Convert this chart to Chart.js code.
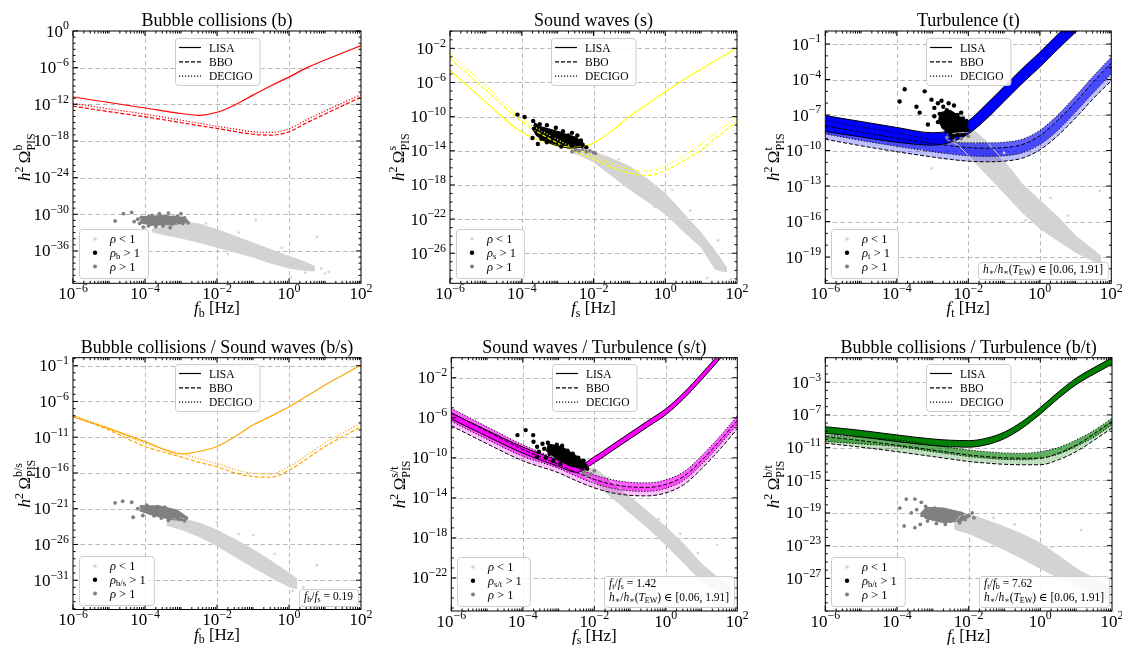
<!DOCTYPE html>
<html><head><meta charset="utf-8"><title>PIS</title>
<script src="https://cdn.jsdelivr.net/npm/chart.js@4.4.1/dist/chart.umd.min.js"></script>
<style>html,body{margin:0;padding:0;background:#fff}#wrap{position:relative;width:1122px;height:648px;overflow:hidden;background:#fff}#wrap canvas{position:absolute}</style>
</head><body><div id="wrap"></div>
<script>
// ================= DATA (all values are log10) =================
const freqExp = [-6,-5,-4,-3,-2.5,-2,-1.5,-1,-0.5,0,0.5,1,1.5,2];
const xTicks = [-6,-4,-2,0,2];

// ---- (b) bubble collisions
const yTicks_b = [0,-6,-12,-18,-24,-30,-36];
const b_LISA   = [-10.8,-11.7,-12.6,-13.5,-13.8,-13.3,-12.1,-10.5,-8.95,-7.55,-6.0,-4.75,-3.55,-2.4];
const b_BBO    = [-12.3,-13.2,-14.05,-15.0,-15.5,-15.95,-16.45,-16.9,-17.05,-16.5,-15.0,-13.6,-12.2,-10.85];
const b_DECIGO = [-11.85,-12.75,-13.6,-14.6,-15.1,-15.6,-16.05,-16.5,-16.6,-16.0,-14.5,-13.1,-11.75,-10.4];
const b_cloud = [[-3.8,-32.4],[-3.3,-31.8],[-2.85,-31.3],[-2.5,-31.6],[-2,-32.5],[-1.5,-33.6],[-1,-34.7],[-0.5,-35.8],[0,-36.9],[0.4,-37.7],[0.7,-38.5],
                 [0.7,-39.3],[0.3,-39.1],[0,-38.8],[-0.5,-38.0],[-1,-37.0],[-1.5,-36.2],[-2,-35.4],[-2.5,-34.6],[-3,-33.9],[-3.5,-33.3],[-3.8,-32.9]];
const b_light = [[-0.92,-31.0],[0.78,-33.7],[1.0,-39.7],[0.05,-40.3],[1.1,-39.4],[0.45,-39.6],[-1.4,-33.0],[-0.2,-35.5],[0.9,-38.9],[-2.3,-31.5],[-1.7,-36.5]];
const b_grayCore = [[-4.1,-30.4],[-3.5,-30.2],[-2.9,-30.5],[-2.8,-31.3],[-3.2,-31.7],[-3.8,-31.8],[-4.15,-31.4]];
const b_gray = [[-4.83,-31.1],[-4.6,-29.9],[-4.37,-29.7],[-4.05,-32.1],[-4.2,-30.8],[-4.1,-30.5],[-4.0,-30.9],[-3.95,-31.3],[-3.9,-30.4],[-3.85,-31.6],
  [-3.8,-30.2],[-3.75,-30.9],[-3.7,-31.4],[-3.65,-30.6],[-3.6,-31.0],[-3.55,-30.3],[-3.5,-31.5],[-3.45,-30.8],[-3.4,-30.4],[-3.35,-31.2],[-3.3,-30.7],
  [-3.25,-31.6],[-3.2,-30.5],[-3.15,-31.0],[-3.1,-30.3],[-3.05,-31.3],[-3.0,-30.8],[-2.95,-31.5],[-2.9,-30.6],[-2.85,-31.1],[-2.8,-31.4],[-3.7,-32.0],
  [-3.5,-31.9],[-3.3,-32.2],[-3.9,-31.9],[-3.6,-29.9],[-3.35,-29.8],[-4.15,-31.5],[-4.3,-31.2],[-3.0,-29.9]];

// ---- (s) sound waves
const yTicks_s = [-2,-6,-10,-14,-18,-22,-26];
const s_LISA   = [-4.55,-8.3,-11.8,-13.4,-13.6,-13.1,-11.7,-10.0,-8.55,-7.1,-5.7,-4.45,-3.2,-1.95];
const s_BBO    = [-3.2,-6.9,-10.6,-13.1,-14.1,-15.0,-15.9,-16.6,-16.9,-16.3,-15.2,-13.9,-12.2,-10.6];
const s_DECIGO = [-2.6,-6.4,-10.2,-12.7,-13.75,-14.55,-15.45,-16.15,-16.4,-15.75,-14.6,-13.2,-11.6,-10.0];
const s_cloud = [[-2.6,-13.7],[-2.0,-14.1],[-1.5,-14.9],[-1.0,-15.8],[-0.5,-17.3],[0,-19.0],[0.5,-21.3],[1.0,-23.6],[1.4,-25.8],[1.7,-27.6],
                 [1.7,-28.2],[1.4,-27.9],[1.0,-25.3],[0.5,-23.4],[0,-21.4],[-0.5,-19.9],[-1.0,-18.5],[-1.5,-16.9],[-2.0,-15.3],[-2.4,-14.5],[-2.6,-14.2]];
const s_light = [[1.47,-24.5],[-0.77,-16.7],[1.83,-29.05],[1.17,-28.9],[0.2,-18.6],[-1.3,-15.0],[1.6,-28.0],[0.7,-21.0],[-0.3,-20.6]];
const s_gray = [[-2.5,-13.9],[-2.4,-14.0],[-2.3,-13.8],[-2.2,-14.1],[-2.1,-14.0],[-2.0,-14.2],[-2.6,-14.1],[-1.95,-14.3]];
const s_blackCore = [[-3.65,-10.7],[-3.45,-11.2],[-3.1,-11.6],[-2.8,-12.0],[-2.5,-12.4],[-2.3,-13.0],[-2.3,-13.6],[-2.7,-13.7],[-3.1,-13.3],[-3.4,-12.8],[-3.6,-12.2],[-3.7,-11.4]];
const s_black = [[-4.12,-9.76],[-3.92,-10.05],[-3.68,-10.5],[-3.66,-11.4],[-3.5,-10.9],[-3.4,-11.5],[-3.3,-11.0],[-3.2,-11.9],[-3.05,-11.3],[-2.95,-12.0],
  [-2.85,-11.7],[-2.7,-12.2],[-2.6,-11.9],[-2.5,-12.6],[-2.45,-12.2],[-2.35,-12.8],[-2.3,-13.3],[-3.45,-12.6],[-3.3,-13.0],[-3.7,-12.5],[-3.55,-13.2],
  [-2.9,-13.5],[-2.6,-13.4],[-2.2,-13.6],[-3.15,-12.4],[-2.75,-12.8]];

// ---- (t) turbulence
const yTicks_t = [-1,-4,-7,-10,-13,-16,-19];
const t_LISA_hi   = [-7.05,-7.55,-8.05,-8.5,-8.3,-7.5,-6.1,-4.6,-3.1,-1.7,-0.2,1.2,2.6,4.0];
const t_LISA_lo   = [-8.4,-8.85,-9.3,-9.55,-9.3,-8.6,-7.35,-5.85,-4.35,-2.95,-1.45,0.0,1.4,2.8];
const t_DECIGO_hi = [-7.45,-8.0,-8.5,-9.1,-9.25,-9.35,-9.35,-9.3,-9.05,-8.3,-7.0,-5.4,-3.7,-2.1];
const t_DECIGO_lo = [-8.6,-9.15,-9.65,-10.1,-10.3,-10.45,-10.5,-10.45,-10.2,-9.5,-8.3,-6.75,-5.1,-3.5];
const t_BBO_hi    = [-7.9,-8.45,-8.95,-9.4,-9.6,-9.75,-9.8,-9.75,-9.5,-8.75,-7.45,-5.9,-4.2,-2.6];
const t_BBO_lo    = [-9.05,-9.6,-10.1,-10.55,-10.75,-10.9,-10.95,-10.9,-10.65,-9.95,-8.75,-7.25,-5.6,-4.1];
const t_cloud = [[-2.6,-8.6],[-2.2,-8.5],[-1.8,-8.4],[-1.5,-9.2],[-1.15,-10.4],[-0.8,-11.6],[-0.5,-12.8],[0,-14.2],[0.5,-15.6],[1.0,-17.2],[1.5,-18.4],[1.7,-18.9],
                 [1.7,-19.6],[1.4,-19.2],[1.0,-18.6],[0.5,-17.6],[0,-16.6],[-0.5,-15.2],[-1.0,-13.6],[-1.5,-12.0],[-2.0,-10.4],[-2.3,-9.5],[-2.6,-9.1]];
const t_light = [[-3.03,-11.5],[1.68,-13.4],[-3.3,-10.0],[-1.0,-10.2],[0.3,-14.0],[1.2,-19.8],[-1.8,-9.3],[0.8,-15.5],[-0.4,-15.9],[1.6,-19.6]];
const t_gray = [[-2.6,-8.9],[-2.4,-9.1],[-2.2,-9.0],[-2.0,-8.8]];
const t_blackCore = [[-2.8,-6.8],[-2.5,-6.6],[-2.2,-7.2],[-2.0,-7.8],[-2.1,-8.6],[-2.4,-8.8],[-2.7,-8.2],[-2.85,-7.5]];
const t_black = [[-3.92,-5.86],[-3.78,-4.82],[-3.22,-5.0],[-3.03,-5.7],[-3.45,-6.3],[-3.13,-7.8],[-3.36,-6.8],[-2.95,-6.4],[-2.85,-6.0],[-2.8,-6.9],
  [-2.7,-6.3],[-2.65,-7.2],[-2.6,-6.6],[-2.55,-7.7],[-2.5,-6.9],[-2.45,-7.4],[-2.4,-6.2],[-2.35,-7.9],[-2.3,-7.0],[-2.25,-7.6],[-2.2,-8.2],[-2.15,-7.3],
  [-2.1,-8.0],[-2.05,-7.5],[-2.0,-8.3],[-2.7,-8.0],[-2.6,-8.4],[-2.5,-8.6],[-2.4,-8.3],[-2.3,-8.7],[-2.85,-7.6],[-2.95,-7.1],[-2.75,-5.8],[-2.55,-6.0],
  [-2.2,-6.8],[-2.15,-8.7],[-2.45,-8.9]];

// ---- (b/s)
const yTicks_bs = [-1,-6,-11,-16,-21,-26,-31];
const bs_LISA   = [-8.15,-9.8,-11.6,-13.35,-13.0,-12.3,-10.9,-9.3,-8.05,-6.75,-5.25,-3.7,-2.3,-0.9];
const bs_BBO    = [-8.05,-10.0,-12.3,-13.75,-14.5,-15.15,-16.0,-16.5,-16.6,-15.6,-14.0,-12.3,-10.9,-9.55];
const bs_DECIGO = [-7.95,-9.7,-11.85,-13.3,-14.0,-14.7,-15.55,-16.05,-16.15,-15.1,-13.5,-11.8,-10.4,-9.0];
const bs_cloud = [[-3.4,-22.6],[-3.0,-22.3],[-2.5,-23.0],[-2.0,-24.0],[-1.5,-25.3],[-1.0,-26.7],[-0.5,-28.3],[0,-30.0],[0.2,-30.7],
                  [0.2,-32.2],[0,-31.9],[-0.5,-30.6],[-1.0,-29.2],[-1.5,-27.7],[-2.0,-26.2],[-2.5,-24.9],[-3.0,-23.9],[-3.4,-23.3]];
const bs_light = [[-0.99,-24.7],[0.77,-28.9],[-1.4,-24.5],[0.1,-32.5],[-0.4,-27.3],[-2.0,-22.9],[0.4,-32.0]];
const bs_grayCore = [[-4.1,-20.6],[-3.6,-20.6],[-3.1,-21.2],[-2.85,-22.1],[-2.9,-22.7],[-3.3,-22.5],[-3.8,-21.9],[-4.15,-21.3]];
const bs_gray = [[-4.83,-20.2],[-4.62,-19.95],[-4.37,-20.1],[-4.33,-22.2],[-4.06,-21.95],[-4.2,-21.0],[-4.1,-20.7],[-4.0,-21.3],[-3.9,-20.8],[-3.85,-21.6],
  [-3.8,-20.9],[-3.7,-21.4],[-3.65,-20.7],[-3.6,-21.9],[-3.5,-21.2],[-3.45,-20.8],[-3.4,-21.7],[-3.3,-21.3],[-3.25,-22.0],[-3.2,-21.5],[-3.1,-22.3],
  [-3.05,-21.8],[-3.0,-22.5],[-2.95,-22.0],[-2.9,-22.7],[-2.85,-22.3],[-3.55,-22.3],[-3.75,-22.0],[-3.35,-22.6],[-3.95,-20.5]];

// ---- (s/t)
const yTicks_st = [-2,-6,-10,-14,-18,-22];
const st_LISA_hi   = [-5.53,-7.26,-8.93,-10.26,-10.85,-9.9,-8.7,-7.5,-6.3,-5.1,-3.5,-1.6,0.4,2.3];
const st_LISA_lo   = [-6.13,-7.86,-9.53,-10.86,-11.45,-10.5,-9.3,-8.1,-6.9,-5.7,-4.1,-2.2,-0.2,1.7];
const st_DECIGO_hi = [-5.06,-6.9,-8.7,-10.2,-11.0,-11.7,-12.2,-12.45,-12.5,-12.2,-11.4,-9.8,-7.9,-5.8];
const st_DECIGO_lo = [-6.35,-8.15,-9.85,-11.05,-11.85,-12.55,-13.05,-13.3,-13.35,-13.05,-12.25,-10.65,-8.75,-6.65];
const st_BBO_hi    = [-5.5,-7.35,-9.15,-10.65,-11.45,-12.15,-12.65,-12.9,-12.95,-12.65,-11.85,-10.25,-8.35,-6.25];
const st_BBO_lo    = [-6.8,-8.6,-10.3,-11.5,-12.3,-13.0,-13.5,-13.75,-13.8,-13.5,-12.7,-11.1,-9.2,-7.1];
const st_cloud = [[-2.3,-11.2],[-2.0,-11.0],[-1.5,-12.4],[-1.0,-13.9],[-0.5,-15.4],[0,-16.9],[0.5,-18.6],[1.0,-20.6],[1.5,-22.1],[1.8,-23.0],
                  [1.8,-24.0],[1.5,-23.5],[1.0,-22.3],[0.5,-20.5],[0,-18.7],[-0.5,-17.0],[-1.0,-15.5],[-1.5,-14.0],[-2.0,-12.5],[-2.3,-11.8]];
const st_light = [[1.44,-18.7],[1.7,-23.9],[0.9,-19.5],[-0.2,-16.1],[1.2,-22.8],[-1.6,-12.0],[0.4,-17.6]];
const st_gray = [[-2.3,-11.5],[-2.1,-11.6],[-2.0,-11.3],[-2.2,-11.8]];
const st_blackCore = [[-3.3,-8.6],[-2.9,-8.9],[-2.5,-9.8],[-2.25,-10.5],[-2.3,-11.1],[-2.7,-10.8],[-3.1,-10.0],[-3.35,-9.3]];
const st_black = [[-4.15,-7.73],[-3.92,-7.23],[-3.71,-7.73],[-3.7,-8.4],[-3.6,-8.9],[-3.55,-9.4],[-3.45,-8.6],[-3.4,-9.1],[-3.3,-8.5],[-3.25,-9.6],
  [-3.2,-8.9],[-3.1,-9.3],[-3.05,-8.7],[-3.0,-9.8],[-2.95,-9.2],[-2.9,-8.8],[-2.85,-9.6],[-2.8,-10.1],[-2.75,-9.3],[-2.7,-9.9],[-2.65,-10.4],
  [-2.6,-9.6],[-2.55,-10.2],[-2.5,-10.7],[-2.45,-10.0],[-2.4,-10.5],[-2.35,-11.0],[-2.3,-10.3],[-2.25,-10.8],[-2.2,-11.1],[-3.35,-10.0],
  [-3.15,-10.3],[-2.95,-10.6],[-3.6,-9.9]];

// ---- (b/t)
const yTicks_bt = [-3,-7,-11,-15,-19,-23,-27];
const bt_LISA_hi   = [-8.45,-8.9,-9.46,-9.95,-10.1,-10.15,-9.85,-9.1,-7.8,-6.1,-4.2,-2.5,-1.2,0.0];
const bt_LISA_lo   = [-9.25,-9.7,-10.26,-10.75,-10.9,-10.95,-10.65,-9.9,-8.6,-6.9,-5.0,-3.3,-2.0,-0.8];
const bt_DECIGO_hi = [-9.45,-9.75,-10.06,-10.7,-11.0,-11.3,-11.5,-11.65,-11.7,-11.5,-11.0,-10.06,-8.9,-7.4];
const bt_DECIGO_lo = [-10.25,-10.55,-10.86,-11.5,-11.8,-12.1,-12.3,-12.45,-12.5,-12.3,-11.8,-10.86,-9.7,-8.2];
const bt_BBO_hi    = [-9.67,-10.15,-10.7,-11.3,-11.6,-11.9,-12.1,-12.25,-12.3,-12.3,-11.7,-10.7,-9.3,-7.8];
const bt_BBO_lo    = [-10.47,-10.95,-11.5,-12.1,-12.4,-12.7,-12.9,-13.05,-13.1,-13.1,-12.5,-11.5,-10.1,-8.6];
const bt_cloud = [[-2.4,-20.2],[-2.2,-19.2],[-1.8,-19.4],[-1.5,-19.9],[-1.0,-20.7],[-0.5,-21.6],[0,-22.7],[0.5,-24.2],[1.0,-25.8],[1.5,-27.0],[1.9,-28.0],
                  [1.9,-29.6],[1.5,-29.0],[1.0,-28.0],[0.5,-26.9],[0,-25.8],[-0.5,-24.6],[-1.0,-23.5],[-1.5,-22.5],[-2.0,-21.5],[-2.4,-21.0]];
const bt_light = [[-0.72,-20.4],[1.14,-21.1],[1.5,-28.5],[0.3,-23.2],[1.8,-29.2],[-1.3,-19.6],[0.8,-27.3]];
const bt_grayCore = [[-3.2,-18.3],[-2.7,-18.4],[-2.2,-18.9],[-1.95,-19.4],[-2.2,-20.0],[-2.7,-20.2],[-3.2,-19.7],[-3.35,-19.0]];
const bt_gray = [[-3.92,-18.4],[-3.74,-17.3],[-3.5,-17.3],[-3.32,-17.7],[-3.8,-20.6],[-3.5,-20.8],[-3.35,-20.4],[-3.6,-19.0],[-3.45,-18.6],[-3.3,-19.3],
  [-3.2,-18.2],[-3.1,-18.9],[-3.0,-19.6],[-2.95,-18.4],[-2.85,-19.1],[-2.8,-19.8],[-2.7,-18.6],[-2.6,-19.4],[-2.5,-20.0],[-2.45,-18.9],[-2.35,-19.6],
  [-2.25,-20.2],[-2.2,-19.1],[-2.1,-19.8],[-2.0,-19.3],[-1.9,-19.0],[-1.85,-19.6],[-3.15,-20.0],[-2.9,-20.3],[-2.65,-20.4]];

// ================= helpers =================
const FF = '"Liberation Serif","DejaVu Serif",serif';
function fnt(sz, it){ return (it?'italic ':'') + sz.toFixed(2) + 'px ' + FF; }
function xy(ys){ return freqExp.map((f,i)=>({x:Math.pow(10,f), y:Math.pow(10,ys[i])})); }
function pts(pairs){ return pairs.map(p=>({x:Math.pow(10,p[0]), y:Math.pow(10,p[1])})); }

const DASH = {L:[], B:[4,2], D:[1.2,1.8]};
function curve(ys, color, dash, order){ return {data:xy(ys), borderColor:color, borderWidth:1.2, borderDash:dash, pointRadius:0, cubicInterpolationMode:'monotone', fill:false, order}; }
function edge(ys, dash, bg, order){ return {data:xy(ys), borderColor:'#000', borderWidth:1, borderDash:dash, pointRadius:0, cubicInterpolationMode:'monotone', fill: bg ? '-1' : false, backgroundColor: bg || 'rgba(0,0,0,0)', order}; }
function poly(pairs, color, order){ return {data:pts(pairs), borderColor:color, backgroundColor:color, borderWidth:1, pointRadius:0, tension:0, fill:'shape', order}; }
function dots(pairs, color, r, order){ return {data:pts(pairs), showLine:false, pointRadius:r, pointHoverRadius:r, pointBackgroundColor:color, pointBorderColor:color, pointBorderWidth:0, order}; }

function richW(ctx, parts, sz){
  let w = 0;
  for (const p of parts){
    if (p.stack){ ctx.font = fnt(sz*0.7); w += Math.max(ctx.measureText(p.stack[0]).width, ctx.measureText(p.stack[1]).width); }
    else { ctx.font = fnt((p.sup||p.sub) ? sz*0.7 : sz, p.i); w += ctx.measureText(p.t).width; }
  }
  return w;
}
function rich(ctx, parts, x, y, sz, align){
  const w = richW(ctx, parts, sz);
  let cx = align==='center' ? x - w/2 : align==='right' ? x - w : x;
  ctx.textAlign = 'left'; ctx.textBaseline = 'alphabetic';
  for (const p of parts){
    if (p.stack){
      ctx.font = fnt(sz*0.7);
      ctx.fillText(p.stack[0], cx, y - sz*0.45);
      ctx.fillText(p.stack[1], cx, y + sz*0.27);
      cx += Math.max(ctx.measureText(p.stack[0]).width, ctx.measureText(p.stack[1]).width);
    } else {
      ctx.font = fnt((p.sup||p.sub) ? sz*0.7 : sz, p.i);
      const dy = p.sup ? -sz*0.42 : p.sub ? sz*0.2 : 0;
      ctx.fillText(p.t, cx, y + dy);
      cx += ctx.measureText(p.t).width;
    }
  }
  return w;
}
function expLabel(e){ return [{t:'10'},{t:(e<0?'\u2212'+(-e):String(e)), sup:1}]; }
function rrect(ctx, x, y, w, h, r){
  ctx.beginPath(); ctx.moveTo(x+r,y); ctx.lineTo(x+w-r,y); ctx.quadraticCurveTo(x+w,y,x+w,y+r);
  ctx.lineTo(x+w,y+h-r); ctx.quadraticCurveTo(x+w,y+h,x+w-r,y+h); ctx.lineTo(x+r,y+h);
  ctx.quadraticCurveTo(x,y+h,x,y+h-r); ctx.lineTo(x,y+r); ctx.quadraticCurveTo(x,y,x+r,y); ctx.closePath();
}
function frameBox(ctx, x, y, w, h){
  rrect(ctx, x+0.5, y+0.5, w, h, 3);
  ctx.fillStyle = 'rgba(255,255,255,0.85)'; ctx.fill();
  ctx.strokeStyle = '#cccccc'; ctx.lineWidth = 1; ctx.setLineDash([]); ctx.stroke();
}
const hStar = [{t:'h',i:1},{t:'\u2217',sub:1},{t:'/'},{t:'h',i:1},{t:'\u2217',sub:1},{t:'('},{t:'T',i:1},{t:'EW',sub:1},{t:') \u2208 [0.06, 1.91]'}];

// ================= panels =================
const panels = [
 {cx:0,   cy:0,   plot:[73,31,361,283.3],     yr:[-41.3,0],     yt:yTicks_b,  title:'Bubble collisions (b)', fx:'b', om:'b', rho:'b', ylx:43, kind:'lines', color:'#ff0000', L:b_LISA, B:b_BBO, D:b_DECIGO, cloud:b_cloud, light:b_light, gray:b_gray, grayCore:b_grayCore, ann:null},
 {cx:374, cy:0,   plot:[450,31,737,283.3],    yr:[-29.5,0.03],  yt:yTicks_s,  title:'Sound waves (s)', fx:'s', om:'s', rho:'s', ylx:46, kind:'lines', color:'#ffff00', L:s_LISA, B:s_BBO, D:s_DECIGO, cloud:s_cloud, light:s_light, gray:s_gray, black:s_black, blackCore:s_blackCore, ann:null},
 {cx:748, cy:0,   plot:[825.3,31,1111.3,283.3], yr:[-21.2,0.1], yt:yTicks_t,  title:'Turbulence (t)', fx:'t', om:'t', rho:'t', ylx:46, kind:'bands', color:[0,0,255],
    Lh:t_LISA_hi, Ll:t_LISA_lo, Dh:t_DECIGO_hi, Dl:t_DECIGO_lo, Bh:t_BBO_hi, Bl:t_BBO_lo, cloud:t_cloud, light:t_light, gray:t_gray, black:t_black, blackCore:t_blackCore, ann:[hStar]},
 {cx:0,   cy:324, plot:[73,357.7,361,609.5],  yr:[-35.1,0.12],  yt:yTicks_bs, title:'Bubble collisions / Sound waves (b/s)', fx:'b', om:'b/s', rho:'b/s', ylx:43, kind:'lines', color:'#ffa500', L:bs_LISA, B:bs_BBO, D:bs_DECIGO, cloud:bs_cloud, light:bs_light, gray:bs_gray, grayCore:bs_grayCore,
    ann:[[{t:'f',i:1},{t:'b',sub:1},{t:'/'},{t:'f',i:1},{t:'s',sub:1},{t:' = 0.19'}]]},
 {cx:374, cy:324, plot:[451.3,357.7,737.3,611], yr:[-25.3,0],    yt:yTicks_st, title:'Sound waves / Turbulence (s/t)', fx:'s', om:'s/t', rho:'s/t', ylx:46, kind:'bands', color:[255,0,255],
    Lh:st_LISA_hi, Ll:st_LISA_lo, Dh:st_DECIGO_hi, Dl:st_DECIGO_lo, Bh:st_BBO_hi, Bl:st_BBO_lo, cloud:st_cloud, light:st_light, gray:st_gray, black:st_black, blackCore:st_blackCore,
    ann:[[{t:'f',i:1},{t:'t',sub:1},{t:'/'},{t:'f',i:1},{t:'s',sub:1},{t:' = 1.42'}], hStar]},
 {cx:748, cy:324, plot:[825.3,357.7,1112,611], yr:[-31,0],       yt:yTicks_bt, title:'Bubble collisions / Turbulence (b/t)', fx:'t', om:'b/t', rho:'b/t', ylx:46, kind:'bands', color:[0,128,0],
    Lh:bt_LISA_hi, Ll:bt_LISA_lo, Dh:bt_DECIGO_hi, Dl:bt_DECIGO_lo, Bh:bt_BBO_hi, Bl:bt_BBO_lo, cloud:bt_cloud, light:bt_light, gray:bt_gray, grayCore:bt_grayCore,
    ann:[[{t:'f',i:1},{t:'t',sub:1},{t:'/'},{t:'f',i:1},{t:'b',sub:1},{t:' = 7.62'}], hStar]}
];

function buildDatasets(P){
  const ds = [];
  ds.push(poly(P.cloud, '#d3d3d3', 50));
  ds.push(dots(P.light, '#d3d3d3', 1.3, 45));
  if (P.kind === 'lines'){
    ds.push(curve(P.B, P.color, DASH.B, 31));
    ds.push(curve(P.D, P.color, DASH.D, 30));
    ds.push(curve(P.L, P.color, DASH.L, 29));
  } else {
    const c = P.color, rgba = a => `rgba(${c[0]},${c[1]},${c[2]},${a})`;
    ds.push(edge(P.Bh, DASH.B, null, 41)); ds.push(edge(P.Bl, DASH.B, rgba(0.25), 40));
    ds.push(edge(P.Dh, DASH.D, null, 39)); ds.push(edge(P.Dl, DASH.D, rgba(0.62), 38));
    ds.push(edge(P.Lh, DASH.L, null, 37)); ds.push(edge(P.Ll, DASH.L, rgba(1), 36));
  }
  if (P.grayCore) ds.push(poly(P.grayCore, '#808080', 21));
  if (P.gray) ds.push(dots(P.gray, '#808080', 1.9, 20));
  if (P.blackCore) ds.push(poly(P.blackCore, '#000000', 11));
  if (P.black) ds.push(dots(P.black, '#000000', 2.2, 10));
  return ds;
}

function deco(P){
  return {
    id:'deco',
    beforeDraw(ch){
      const c = ch.ctx, a = ch.chartArea, X = ch.scales.x, Y = ch.scales.y;
      c.save(); c.strokeStyle = '#b0b0b0'; c.lineWidth = 0.9; c.setLineDash([4.5,3]);
      c.beginPath();
      for (const e of xTicks){ const px = Math.round(X.getPixelForValue(Math.pow(10,e)))+0.5; if (px>a.left+2 && px<a.right-2){ c.moveTo(px,a.top); c.lineTo(px,a.bottom);} }
      for (const e of P.yt){ const py = Math.round(Y.getPixelForValue(Math.pow(10,e)))+0.5; if (py>a.top+2 && py<a.bottom-2){ c.moveTo(a.left,py); c.lineTo(a.right,py);} }
      c.stroke(); c.restore();
    },
    afterDraw(ch){
      const c = ch.ctx, a = ch.chartArea, X = ch.scales.x, Y = ch.scales.y;
      c.save();
      c.setLineDash([]); c.strokeStyle = '#000'; c.lineWidth = 1;
      c.strokeRect(a.left, a.top, a.right-a.left, a.bottom-a.top);
      // ticks
      c.beginPath();
      for (let n=-6; n<2; n++) for (let k=1; k<10; k++){
        const px = X.getPixelForValue(k*Math.pow(10,n));
        const L = (k===1 && n%2===0) ? 5 : 2.5;
        c.moveTo(px,a.bottom); c.lineTo(px,a.bottom-L); c.moveTo(px,a.top); c.lineTo(px,a.top+L);
      }
      for (let e=Math.ceil(P.yr[0]); e<=Math.floor(P.yr[1]); e++){
        const py = Y.getPixelForValue(Math.pow(10,e));
        const L = P.yt.includes(e) ? 5 : 2.5;
        c.moveTo(a.left,py); c.lineTo(a.left+L,py); c.moveTo(a.right,py); c.lineTo(a.right-L,py);
      }
      c.stroke();
      // tick labels
      c.fillStyle = '#000';
      for (const e of xTicks) rich(c, expLabel(e), X.getPixelForValue(Math.pow(10,e)), a.bottom+15.5, 17, 'center');
      for (const e of P.yt) rich(c, expLabel(e), a.left-4, Y.getPixelForValue(Math.pow(10,e))+5.5, 17, 'right');
      // title
      c.font = fnt(18); c.textAlign = 'center'; c.textBaseline = 'alphabetic';
      c.fillText(P.title, (a.left+a.right)/2, a.top-5);
      // x label
      rich(c, [{t:'f',i:1},{t:P.fx,sub:1},{t:' [Hz]'}], (a.left+a.right)/2, a.bottom+30, 17, 'center');
      // y label
      c.save(); c.translate(a.left-P.ylx, (a.top+a.bottom)/2); c.rotate(-Math.PI/2);
      rich(c, [{t:'h',i:1},{t:'2',sup:1},{t:'\u2009\u03A9'},{stack:[P.om,'PIS']}], 0, 0, 17, 'center');
      c.restore();
      // line legend
      {
        const sz = 11.5, names = ['LISA','BBO','DECIGO'];
        c.font = fnt(sz);
        const tw = Math.max(...names.map(s=>c.measureText(s).width));
        const w = 34 + tw + 7, h = 47;
        const L = Math.round((a.left+a.right)/2 - w/2), T = Math.round(a.top + 6.5);
        frameBox(c, L, T, w, h);
        const dashes = [DASH.L, DASH.B, DASH.D];
        names.forEach((s,i)=>{
          const yy = T + 9.5 + i*14.3;
          c.strokeStyle = '#000'; c.lineWidth = 1.2; c.setLineDash(dashes[i]);
          c.beginPath(); c.moveTo(L+4, yy); c.lineTo(L+26, yy); c.stroke();
          c.setLineDash([]); c.fillStyle = '#000'; c.font = fnt(sz); c.textAlign='left'; c.textBaseline='alphabetic';
          c.fillText(s, L+34, yy + sz*0.36);
        });
      }
      // marker legend
      {
        const sz = 12.5;
        const rows = [
          {parts:[{t:'\u03C1',i:1},{t:' < 1'}], col:'#d3d3d3', r:1.8},
          {parts:[{t:'\u03C1',i:1},{t:P.rho,sub:1},{t:' > 1'}], col:'#000000', r:2.2},
          {parts:[{t:'\u03C1',i:1},{t:' > 1'}], col:'#808080', r:2.0}
        ];
        const tw = Math.max(...rows.map(r=>richW(c, r.parts, sz)));
        const w = 31 + tw + 8, h = 49;
        const L = Math.round(a.left + 6), T = Math.round(a.bottom - 5 - h);
        frameBox(c, L, T, w, h);
        rows.forEach((r,i)=>{
          const yy = T + 10 + i*13.8;
          c.fillStyle = r.col; c.beginPath(); c.arc(L+16, yy, r.r, 0, Math.PI*2); c.fill();
          c.fillStyle = '#000'; rich(c, r.parts, L+31, yy+4, sz, 'left');
        });
      }
      // annotation
      if (P.ann){
        const sz = 11.5, lh = 14;
        const tw = Math.max(...P.ann.map(p=>richW(c, p, sz)));
        const w = tw + 10, h = P.ann.length*lh + 3;
        const R = a.right - 3, B = a.bottom - 4;
        const L = Math.round(R - w), T = Math.round(B - h);
        frameBox(c, L, T, w, h);
        c.fillStyle = '#000';
        P.ann.forEach((p,i)=> rich(c, p, L+5, T + 11 + i*lh, sz, 'left'));
      }
      c.restore();
    }
  };
}

const wrap = document.getElementById('wrap');
for (const P of panels){
  const cv = document.createElement('canvas');
  cv.width = 374; cv.height = 324;
  cv.style.left = P.cx + 'px'; cv.style.top = P.cy + 'px';
  cv.style.width = '374px'; cv.style.height = '324px';
  wrap.appendChild(cv);
  const pl = P.plot[0]-P.cx, pt = P.plot[1]-P.cy, pr = P.cx+374-P.plot[2], pb = P.cy+324-P.plot[3];
  new Chart(cv, {
    type:'line',
    data:{datasets: buildDatasets(P)},
    options:{
      responsive:false, animation:false, devicePixelRatio:1, events:[],
      layout:{padding:{left:pl, top:pt, right:pr, bottom:pb}},
      scales:{
        x:{type:'logarithmic', min:1e-6, max:1e2, display:false},
        y:{type:'logarithmic', min:Math.pow(10,P.yr[0]), max:Math.pow(10,P.yr[1]), display:false}
      },
      plugins:{legend:{display:false}, tooltip:{enabled:false}, filler:{drawTime:'beforeDatasetsDraw', propagate:false}}
    },
    plugins:[deco(P)]
  });
}
</script>
</body></html>
